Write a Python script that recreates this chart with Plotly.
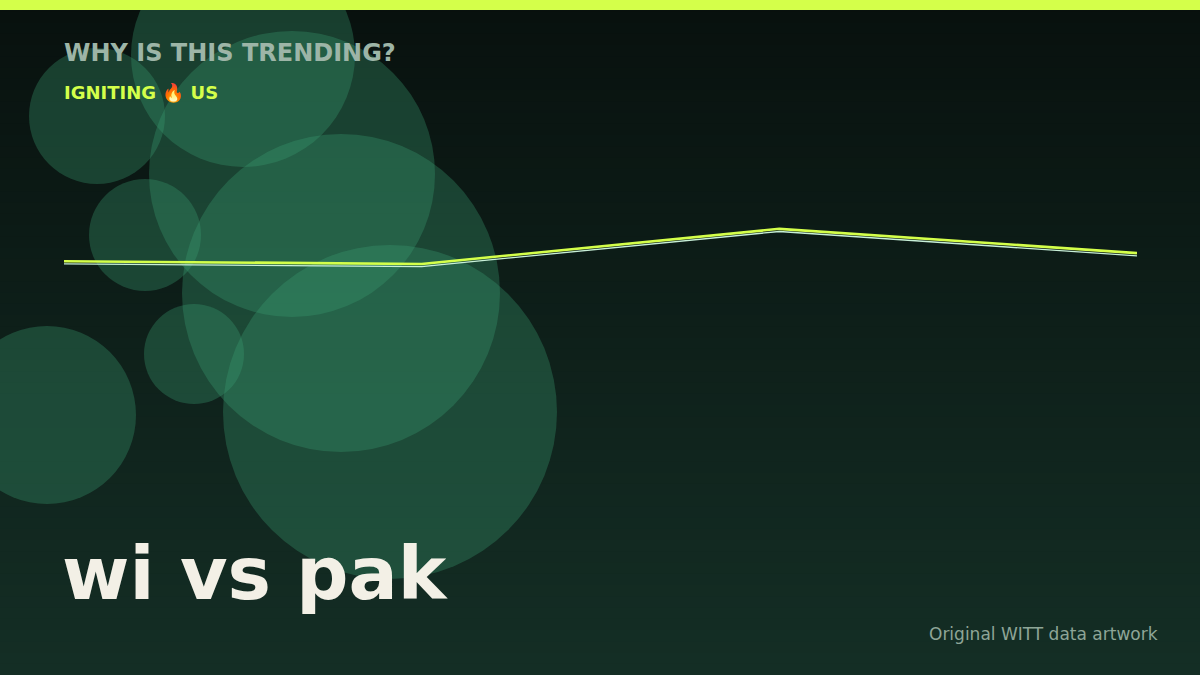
import plotly.graph_objects as go

W, H = 1200, 675

# trend series (interest score, 0-100 scale) over four snapshots
snapshots = ["t1", "t2", "t3", "t4"]
interest = [61.3, 60.9, 66.1, 62.5]
interest_echo = [60.9, 60.5, 65.7, 62.1]

# decorative bubbles: centre x, centre y, radius (pixels)
bubble_x = [243, 97, 292, 145, 341, 390, 194, 47]
bubble_y = [55, 116, 174, 235, 293, 412, 354, 415]
bubble_r = [112, 68, 143, 56, 159, 167, 50, 89]

title_text = "wi vs pak"
kicker_text = "WHY IS THIS TRENDING?"
tag_text = "IGNITING \U0001F525 US"
credit_text = "Original WITT data artwork"


def px_x(p):
    return p / W


def px_y(p):
    return 1 - p / H


def mix(c1, c2, t):
    return "rgb(%d,%d,%d)" % tuple(round(a + (b - a) * t) for a, b in zip(c1, c2))


shapes = []

# vertical background gradient made of thin (slightly overlapping) bands
top_col, bot_col = (8, 17, 14), (20, 46, 37)
n_bands = 60
for i in range(n_bands):
    shapes.append(dict(type="rect", xref="paper", yref="paper",
                       x0=0, x1=1, y0=1 - (i + 1) / n_bands - 0.004, y1=1 - i / n_bands,
                       fillcolor=mix(top_col, bot_col, i / (n_bands - 1)),
                       line=dict(width=0), layer="below"))

for cx, cy, r in zip(bubble_x, bubble_y, bubble_r):
    shapes.append(dict(type="circle", xref="paper", yref="paper",
                       x0=px_x(cx - r), x1=px_x(cx + r),
                       y0=px_y(cy + r), y1=px_y(cy - r),
                       fillcolor="rgba(60,160,115,0.32)",
                       line=dict(width=0), layer="below"))

# accent bar on top
shapes.append(dict(type="rect", xref="paper", yref="paper",
                   x0=0, x1=1, y0=px_y(10), y1=1,
                   fillcolor="#d4ff4a", line=dict(width=0)))

fig = go.Figure()
fig.add_trace(go.Scatter(x=snapshots, y=interest_echo, mode="lines",
                         line=dict(color="#c8f0d8", width=1.3), hoverinfo="skip"))
fig.add_trace(go.Scatter(x=snapshots, y=interest, mode="lines",
                         line=dict(color="#d4ff4a", width=2.6), hoverinfo="skip"))

font = "DejaVu Sans"
annotations = [
    dict(text="<b>%s</b>" % kicker_text, x=px_x(62), y=px_y(53), xanchor="left", yanchor="middle",
         font=dict(family=font, size=24, color="#9db5a7")),
    dict(text="<b>%s</b>" % tag_text, x=px_x(62), y=px_y(92), xanchor="left", yanchor="middle",
         font=dict(family=font, size=18, color="#d4ff4a")),
    dict(text="<b>%s</b>" % title_text, x=px_x(60), y=px_y(573), xanchor="left", yanchor="middle",
         font=dict(family=font, size=73, color="#f3f0e6")),
    dict(text=credit_text, x=px_x(1160), y=px_y(634), xanchor="right", yanchor="middle",
         font=dict(family=font, size=17, color="#8ea597")),
]
for a in annotations:
    a.update(xref="paper", yref="paper", showarrow=False)

fig.update_layout(
    width=W, height=H,
    margin=dict(l=0, r=0, t=0, b=0),
    paper_bgcolor="rgb(8,17,14)",
    plot_bgcolor="rgba(0,0,0,0)",
    showlegend=False,
    shapes=shapes,
    annotations=annotations,
    xaxis=dict(visible=False, range=[0, 3], domain=[px_x(64), px_x(1137)]),
    yaxis=dict(visible=False, range=[0, 100], domain=[0, 1]),
)

fig.write_html("out.html", config={"displayModeBar": False},
               post_script="document.body.style.margin='0';")
